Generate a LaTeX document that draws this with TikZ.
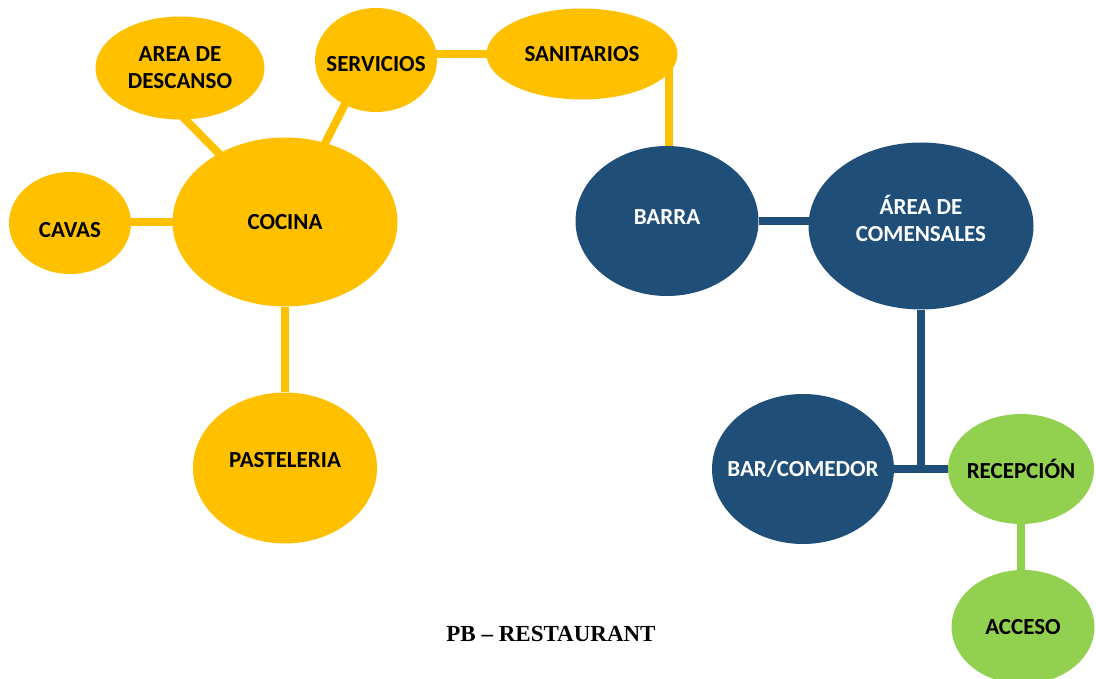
\documentclass[tikz,border=0pt]{standalone}
\usepackage{fontspec}
\usetikzlibrary{shapes.geometric,backgrounds}
\newfontfamily\areafont{Carlito}
\newfontfamily\titlefont{Liberation Serif}
\definecolor{amarillo}{HTML}{FFC000}
\definecolor{azul}{HTML}{1F4E79}
\definecolor{verde}{HTML}{92D050}

\begin{document}
\begin{tikzpicture}[x=1pt,y=-1pt,
    area/.style={ellipse,inner xsep=-40pt,inner ysep=0pt,align=center,font=\areafont\bfseries\fontsize{23}{27}\selectfont},
    cocinaarea/.style={area,fill=amarillo,text=black},
    salonarea/.style={area,fill=azul,text=white},
    entradaarea/.style={area,fill=verde,text=black},
    link/.style={line width=8pt}]
    \clip (0,0) rectangle (1096,679);

    % zona de cocina
    \node[cocinaarea,minimum width=169,minimum height=103] (descanso) at (180,68) {AREA DE\\DESCANSO};
    \node[cocinaarea,minimum width=122,minimum height=104,text height=23pt,text depth=0pt] (servicios) at (376,60) {SERVICIOS};
    \node[cocinaarea,minimum width=191,minimum height=91] (sanitarios) at (582,54) {SANITARIOS};
    \node[cocinaarea,minimum width=122,minimum height=102,text height=29pt,text depth=0pt] (cavas) at (70,223) {CAVAS};
    \node[cocinaarea,minimum width=225,minimum height=169] (cocina) at (285,222) {COCINA};
    \node[cocinaarea,minimum width=184,minimum height=151,text depth=16pt] (pasteleria) at (285,468) {PASTELERIA};

    % zona de salon
    \node[salonarea,minimum width=183,minimum height=150,text depth=8pt] (barra) at (667,221) {BARRA};
    \node[salonarea,minimum width=225,minimum height=167,text depth=16pt] (comensales) at (921,226) {ÁREA DE\\COMENSALES};
    \node[salonarea,minimum width=182,minimum height=150] (barcomedor) at (803,469) {BAR/COMEDOR};

    % entrada
    \node[entradaarea,minimum width=146,minimum height=110] (recepcion) at (1021,469) {RECEPCIÓN};
    \node[entradaarea,minimum width=143,minimum height=114] (acceso) at (1023,627) {ACCESO};

    \coordinate (cruce) at (comensales.center |- recepcion.center);

    \node[font=\titlefont\bfseries\fontsize{23}{27}\selectfont] (titulo) at (551,634) {PB – RESTAURANT};

    \begin{scope}[on background layer]
        \draw[link,amarillo,shorten <=-5pt,shorten >=-5pt] (descanso.-84) -- (cocina.134);
        \draw[link,amarillo,shorten <=-5pt,shorten >=-5pt] (servicios.-125) -- (cocina.63);
        \draw[link,amarillo] (servicios.center |- sanitarios.center) -- (sanitarios.center);
        \draw[link,amarillo] (cavas.center |- cocina.center) -- (cocina.center);
        \draw[link,amarillo] (cocina) -- (pasteleria);
        \draw[link,amarillo,shorten <=-5pt] (sanitarios.-12) -- (sanitarios.-12 |- barra.center);
        \draw[link,azul] (barra) -- (barra -| comensales);
        \draw[link,azul] (comensales) -- (cruce);
        \draw[link,azul] (barcomedor) -- (recepcion);
        \draw[link,verde] (recepcion) -- (recepcion |- acceso);
    \end{scope}
\end{tikzpicture}
\end{document}
